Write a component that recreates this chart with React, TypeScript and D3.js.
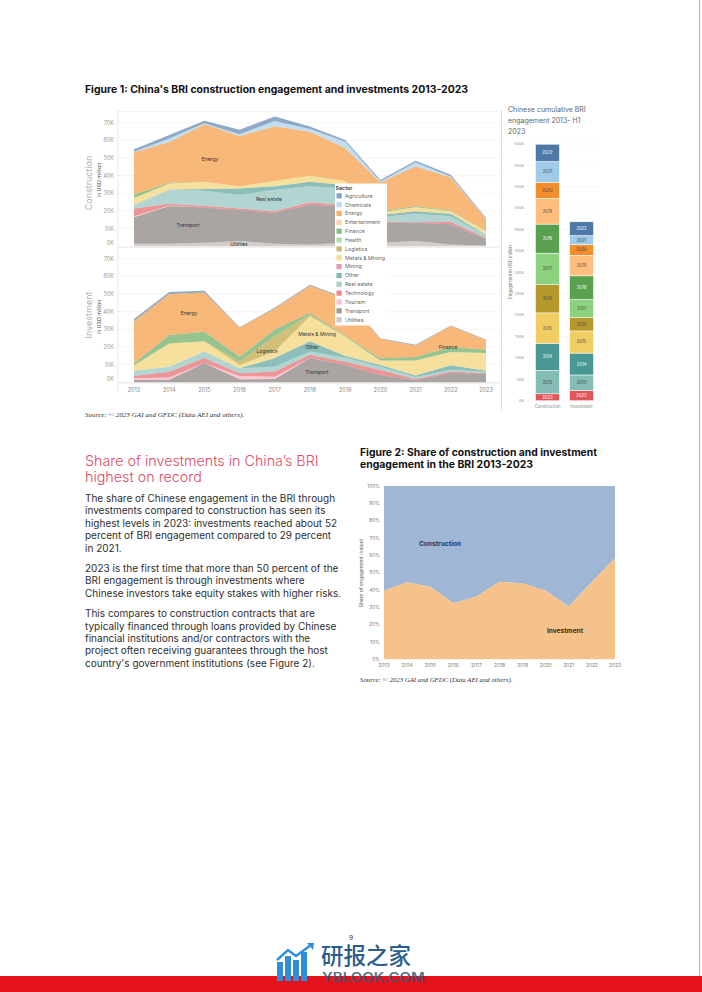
import React from 'react';
import * as d3 from 'd3';

// ---------------- DATA ----------------
const years = [2013, 2014, 2015, 2016, 2017, 2018, 2019, 2020, 2021, 2022, 2023];
const sectors = ['Agriculture', 'Chemicals', 'Energy', 'Entertainment', 'Finance', 'Health', 'Logistics',
  'Metals & Mining', 'Mining', 'Other', 'Real estate', 'Technology', 'Tourism', 'Transport', 'Utilities'];
const sectorColors = ['#4e79a7', '#a0cbe8', '#f28e2b', '#ffbe7d', '#59a14f', '#8cd17d', '#b6992d',
  '#f1ce63', '#d37295', '#499894', '#86bcb6', '#e15759', '#f7a8b8', '#79706e', '#bab0ac'];

// Construction engagement, USD million (thousands = K)
const conAgriculture = [1.5, 2, 1.4, 2.5, 2.5, 1.5, 1, 0.8, 1, 1, 0.3];
const conChemicals = [0.3, 2, 0.6, 1, 3, 1.5, 3.5, 0.5, 2, 0.6, 0.2];
const conEnergy = [23.8, 23, 32.5, 28.5, 31, 25, 18.7, 16.5, 22.6, 18.6, 6.8];
const conEntertainment = [0, 0, 0, 0, 0, 0, 0, 0, 0, 0, 0];
const conFinance = [2, 0.4, 0, 0, 0, 0, 0, 0.5, 0.6, 0.5, 0.2];
const conHealth = [0, 0, 0, 0, 0, 0, 0, 0, 0, 0, 0];
const conLogistics = [0, 0, 0, 0, 0, 0, 0, 0, 0, 0, 0];
const conMetals = [4, 3.4, 4.2, 1.3, 3, 3.4, 2.3, 1.5, 2.3, 1.4, 2];
const conMining = [0, 0, 0, 0, 0, 0, 0, 0, 0, 0, 0];
const conOther = [0, 0, 1, 3.5, 2, 2.5, 1.9, 1.2, 1.4, 1.4, 0.4];
const conRealEstate = [2, 8.1, 8.4, 7.8, 12.2, 9, 9.5, 2.5, 4.9, 3.1, 1.5];
const conTechnology = [4.4, 1, 1, 0.9, 0.8, 1.5, 0.8, 0.5, 0.3, 1.4, 0.5];
const conTourism = [0.5, 0.3, 0, 0, 0, 0, 0, 0, 0, 0, 0];
const conTransport = [15, 21.3, 20, 17.5, 17.5, 22.5, 20.5, 11.5, 10.3, 11.5, 3.7];
const conUtilities = [1.5, 1.5, 2, 3, 1.5, 1, 2, 2, 3, 1, 0.5];

// Investment engagement, USD million (K)
const invAgriculture = [1.3, 1.1, 0.9, 0.3, 0.3, 0.5, 0.5, 0.4, 0.3, 0.3, 0.3];
const invChemicals = [0, 0, 0, 0, 0, 0, 0, 0, 0, 0, 0];
const invEnergy = [24, 23.2, 22.3, 16.4, 12.1, 15.3, 21, 11, 6.6, 11.9, 5.4];
const invEntertainment = [0, 0, 0, 0, 0, 0, 0, 0, 0, 0, 0];
const invFinance = [1, 4.8, 5.4, 2.8, 3.8, 1, 0.5, 1.3, 1.9, 2.8, 1.9];
const invHealth = [0, 0, 0, 0, 0, 0, 0, 0, 0, 0, 0];
const invLogistics = [0, 0, 0, 1.9, 8.6, 1, 0, 0, 0, 0, 0];
const invMetals = [3, 13.2, 5.7, 1.9, 3.8, 14.2, 11, 2.5, 8.6, 7.6, 10.1];
const invMining = [0, 0, 0, 0, 0, 0, 0, 0, 0, 0, 0];
const invOther = [0, 0, 0, 0, 4.7, 5.7, 1, 1, 0.8, 2.5, 0.5];
const invRealEstate = [3, 2.8, 3.8, 2.8, 2.9, 1.9, 2.2, 1.8, 1.2, 1, 0.8];
const invTechnology = [1.3, 3.3, 2.8, 1.5, 2.9, 1.9, 1.9, 2.9, 0.5, 0.8, 0.2];
const invTourism = [1, 1.2, 0, 1.9, 1.3, 0, 0, 0, 0, 0, 0];
const invTransport = [1.3, 1.5, 10.9, 1.7, 1.9, 13.7, 9.8, 4.1, 1.3, 5.3, 5];
const invUtilities = [0, 0, 0, 0, 0, 0, 0, 0, 0, 0, 0];

const areaTicksK = [0, 10, 20, 30, 40, 50, 60, 70];

// Cumulative bar chart
const barCategories = ['Construction', 'Investment'];
const barYearOrder = [2023, 2013, 2014, 2015, 2016, 2017, 2018, 2019, 2020, 2021, 2022];
const barYearColors = ['#e15759', '#86bcb6', '#499894', '#f1ce63', '#b6992d', '#8cd17d', '#59a14f', '#ffbe7d', '#f28e2b', '#a0cbe8', '#4e79a7'];
const barYearTextDark = [false, true, false, true, true, true, false, true, true, true, false];
const barTicksK = [0, 50, 100, 150, 200, 250, 300, 350, 400, 450, 500, 550, 600];

// Figure 2: share of investment in engagement (%)
const investmentShare = [39.6, 44.4, 41.9, 32.3, 36.2, 44.8, 43.8, 39.6, 30.4, 44.8, 58.3];
const shareTicks = [0, 10, 20, 30, 40, 50, 60, 70, 80, 90, 100];

// Text
const bodyP1 = ['The share of Chinese engagement in the BRI through', 'investments compared to construction has seen its',
  'highest levels in 2023: investments reached about 52', 'percent of BRI engagement compared to 29 percent', 'in 2021.'];
const bodyP2 = ['2023 is the first time that more than 50 percent of the', 'BRI engagement is through investments where',
  'Chinese investors take equity stakes with higher risks.'];
const bodyP3 = ['This compares to construction contracts that are', 'typically financed through loans provided by Chinese',
  'financial institutions and/or contractors with the', 'project often receiving guarantees through the host',
  "country's government institutions (see Figure 2)."];

// --------------- BUILD ---------------
const conSeries = [conAgriculture, conChemicals, conEnergy, conEntertainment, conFinance, conHealth, conLogistics,
  conMetals, conMining, conOther, conRealEstate, conTechnology, conTourism, conTransport, conUtilities];
const invSeries = [invAgriculture, invChemicals, invEnergy, invEntertainment, invFinance, invHealth, invLogistics,
  invMetals, invMining, invOther, invRealEstate, invTechnology, invTourism, invTransport, invUtilities];

function buildTable(series: number[][]) {
  return years.map((yr, i) => {
    const row: any = { year: yr };
    sectors.forEach((s, k) => { row[s] = series[k][i]; });
    return row;
  });
}
const conTable = buildTable(conSeries);
const invTable = buildTable(invSeries);
const stackKeys = [...sectors].reverse();
const stacker = d3.stack<any>().keys(stackKeys);
const conStack = stacker(conTable);
const invStack = stacker(invTable);
const conTotals = years.map((_, i) => d3.sum(conSeries, s => s[i]));
const invTotals = years.map((_, i) => d3.sum(invSeries, s => s[i]));

const FONT = 'Inter, "Noto Sans", sans-serif';
const SERIF = '"Liberation Serif", "DejaVu Serif", serif';

function AreaPane({ stack, y0, y1, labels }: { stack: any[]; y0: number; y1: number; labels: { t: string; x: number; y: number }[] }) {
  const x = d3.scaleLinear().domain([2013, 2023]).range([134, 486]);
  const y = d3.scaleLinear().domain([0, 76]).range([y0, y1]);
  const area = d3.area<any>().x(d => x(d.data.year)).y0(d => y(d[0])).y1(d => y(d[1]));
  return (
    <g>
      {areaTicksK.map(t => (
        <g key={t}>
          <line x1={118} x2={500} y1={y(t)} y2={y(t)} stroke="#efefef" strokeWidth={0.6} />
          <text x={114} y={y(t) - (t === 0 ? 3 : 0)} dy="0.35em" textAnchor="end" fontSize={5.5} fill="#9a9a9a" fontFamily={FONT}>{t}K</text>
        </g>
      ))}
      {stack.map(layer => (
        <path key={layer.key} d={area(layer) || ''} fill={sectorColors[sectors.indexOf(layer.key)]} fillOpacity={0.63} />
      ))}
      {labels.map(l => (
        <text key={l.t + l.x} x={l.x} y={l.y} dy="0.35em" textAnchor="middle" fontSize={5} fill="#333" fontFamily={FONT}>{l.t}</text>
      ))}
    </g>
  );
}

function Figure1() {
  const x = d3.scaleLinear().domain([2013, 2023]).range([134, 486]);
  const yBar = d3.scaleLinear().domain([0, 650]).range([400.7, 400.7 - 650 * 0.428]);
  const band = d3.scaleBand().domain(barCategories).range([527, 602]).paddingInner(0.3).paddingOuter(0.25);
  const barTotals = [conTotals, invTotals];
  return (
    <g>
      <text x={85} y={93} fontSize={9.8} fontWeight={700} fill="#111" fontFamily={FONT} textLength={383} lengthAdjust="spacingAndGlyphs">Figure 1: China's BRI construction engagement and investments 2013-2023</text>
      {/* frame lines */}
      <line x1={118} x2={500} y1={111.5} y2={111.5} stroke="#e8e8e8" strokeWidth={0.6} />
      <line x1={118} x2={118} y1={111} y2={392} stroke="#dcdcdc" strokeWidth={0.6} />
      <line x1={501.5} x2={501.5} y1={110} y2={410} stroke="#d0d0d0" strokeWidth={0.7} />

      <AreaPane stack={conStack} y0={246.3} y1={112.1}
        labels={[{ t: 'Energy', x: 210, y: 159 }, { t: 'Real estate', x: 269, y: 199 }, { t: 'Transport', x: 188, y: 225 }, { t: 'Utilities', x: 239, y: 244 }]} />
      <line x1={118} x2={500} y1={247.5} y2={247.5} stroke="#e4e4e4" strokeWidth={0.6} />
      <AreaPane stack={invStack} y0={382.3} y1={248.1}
        labels={[{ t: 'Energy', x: 189, y: 313 }, { t: 'Logistics', x: 267, y: 351.5 }, { t: 'Metals & Mining', x: 317, y: 334 },
          { t: 'Other', x: 312, y: 347.5 }, { t: 'Transport', x: 317, y: 372.5 }, { t: 'Finance', x: 448, y: 347 }]} />
      <line x1={118} x2={500} y1={383} y2={383} stroke="#d8d8d8" strokeWidth={0.6} />
      {years.map(yr => (
        <text key={yr} x={x(yr)} y={390} dy="0.35em" textAnchor="middle" fontSize={5.5} fill="#888" fontFamily={FONT}>{yr}</text>
      ))}

      {/* axis titles */}
      <g transform="translate(92,183) rotate(-90)">
        <text textAnchor="middle" fontSize={9} fill="#b0b0b0" fontFamily={FONT}>Construction</text>
      </g>
      <g transform="translate(100.5,180) rotate(-90)">
        <text textAnchor="middle" fontSize={5.3} fill="#444" fontFamily={FONT}>in USD million</text>
      </g>
      <g transform="translate(92,315) rotate(-90)">
        <text textAnchor="middle" fontSize={9} fill="#b0b0b0" fontFamily={FONT}>Investment</text>
      </g>
      <g transform="translate(100.5,317) rotate(-90)">
        <text textAnchor="middle" fontSize={5.3} fill="#444" fontFamily={FONT}>in USD million</text>
      </g>

      {/* legend */}
      <rect x={335} y={183.5} width={52} height={142} fill="#fff" />
      <text x={335.5} y={188.5} dy="0.35em" fontSize={5.3} fontWeight={600} fill="#333" fontFamily={FONT}>Sector</text>
      {sectors.map((s, i) => (
        <g key={s} transform={`translate(336.5,${195.8 + i * 8.85})`}>
          <rect x={0} y={-2.6} width={5.2} height={5.2} fill={sectorColors[i]} fillOpacity={0.7} />
          <text x={8.5} y={0} dy="0.35em" fontSize={5.3} fill="#666" fontFamily={FONT}>{s}</text>
        </g>
      ))}

      {/* cumulative bars */}
      <text fontSize={7} fill="#666" fontFamily={FONT}>
        <tspan x={508} y={112}>Chinese cumulative BRI</tspan>
        <tspan x={508} y={123}>engagement 2013- H1</tspan>
        <tspan x={508} y={134}>2023</tspan>
      </text>
      {barTicksK.map(t => (
        <g key={t}>
          <line x1={527} x2={600} y1={yBar(t)} y2={yBar(t)} stroke="#f0f0f0" strokeWidth={0.5} />
          <text x={524} y={yBar(t)} dy="0.35em" textAnchor="end" fontSize={3.8} fill="#999" fontFamily={FONT}>{t}K</text>
        </g>
      ))}
      <g transform="translate(512,272) rotate(-90)">
        <text textAnchor="middle" fontSize={4.2} fill="#777" fontFamily={FONT}>Engagement in USD million</text>
      </g>
      {barCategories.map((c, ci) => {
        let acc = 0;
        const bx = band(c) as number;
        return (
          <g key={c}>
            {barYearOrder.map((yr, k) => {
              const v = barTotals[ci][years.indexOf(yr)];
              const yTop = yBar(acc + v);
              const yBot = yBar(acc);
              acc += v;
              return (
                <g key={yr}>
                  <rect x={bx} y={yTop} width={band.bandwidth()} height={yBot - yTop} fill={barYearColors[k]} stroke="#fff" strokeWidth={0.5} />
                  <text x={bx + band.bandwidth() / 2} y={(yTop + yBot) / 2} dy="0.35em" textAnchor="middle" fontSize={4.2}
                    fill={barYearTextDark[k] ? '#444' : '#fff'} fontFamily={FONT}>{yr}</text>
                </g>
              );
            })}
            <text x={bx + band.bandwidth() / 2} y={406} dy="0.35em" textAnchor="middle" fontSize={4.3} fill="#888" fontFamily={FONT}>{c}</text>
          </g>
        );
      })}

      <text x={85} y={417} fontSize={7.1} fontStyle="italic" fill="#333" fontFamily={SERIF}>Source: © 2023 GAI and GFDC (Data AEI and others).</text>
    </g>
  );
}

function Figure2() {
  const x = d3.scaleLinear().domain([2013, 2023]).range([384, 615]);
  const y = d3.scaleLinear().domain([0, 100]).range([659.3, 486]);
  const inv = d3.area<number>().x((_, i) => x(years[i])).y0(y(0)).y1(d => y(d));
  const con = d3.area<number>().x((_, i) => x(years[i])).y0(d => y(d)).y1(y(100));
  return (
    <g>
      <text x={360} y={456} fontSize={9.8} fontWeight={700} fill="#111" fontFamily={FONT} textLength={237} lengthAdjust="spacingAndGlyphs">Figure 2: Share of construction and investment</text>
      <text x={360} y={468} fontSize={9.8} fontWeight={700} fill="#111" fontFamily={FONT} textLength={173} lengthAdjust="spacingAndGlyphs">engagement in the BRI 2013-2023</text>
      <path d={con(investmentShare) || ''} fill="#a0b6d5" />
      <path d={inv(investmentShare) || ''} fill="#f6c28c" />
      {shareTicks.map(t => (
        <text key={t} x={380} y={y(t)} dy="0.35em" textAnchor="end" fontSize={4.8} fill="#777" fontFamily={FONT}>{t}%</text>
      ))}
      {years.map(yr => (
        <text key={yr} x={x(yr)} y={665} dy="0.35em" textAnchor="middle" fontSize={4.8} fill="#777" fontFamily={FONT}>{yr}</text>
      ))}
      <g transform="translate(363,573) rotate(-90)">
        <text textAnchor="middle" fontSize={5} fill="#666" fontFamily={FONT}>Share of engagement (value)</text>
      </g>
      <text x={440} y={544} dy="0.35em" textAnchor="middle" fontSize={6.6} fontWeight={700} fill="#1f3a5f" fontFamily={FONT}>Construction</text>
      <text x={565} y={631} dy="0.35em" textAnchor="middle" fontSize={6.6} fontWeight={700} fill="#4a2a10" fontFamily={FONT}>Investment</text>
      <text x={360} y={681.5} fontSize={6.8} fontStyle="italic" fill="#333" fontFamily={SERIF}>Source: © 2023 GAI and GFDC (Data AEI and others).</text>
    </g>
  );
}

function BodyText() {
  const p1y = [502, 514.4, 527, 539.4, 552];
  const p2y = [572, 584.4, 597];
  const p3y = [617, 629.5, 642, 654.4, 667];
  return (
    <g fontFamily={FONT} fontSize={10} fill="#2e2e2e">
      <text x={85} y={466} fontSize={14.3} fill="#e04a5f" fontWeight={300}>Share of investments in China’s BRI</text>
      <text x={85} y={482} fontSize={14.3} fill="#e04a5f" fontWeight={300}>highest on record</text>
      {bodyP1.map((l, i) => <text key={l} x={85} y={p1y[i]}>{l}</text>)}
      {bodyP2.map((l, i) => <text key={l} x={85} y={p2y[i]}>{l}</text>)}
      {bodyP3.map((l, i) => <text key={l} x={85} y={p3y[i]}>{l}</text>)}
    </g>
  );
}

function Footer() {
  return (
    <g>
      <rect x={0} y={976} width={702} height={16} fill="#e3121d" />
      <line x1={699.5} x2={699.5} y1={0} y2={976} stroke="#b5b5b5" strokeWidth={1} />
      {/* watermark logo */}
      <g fill="#2f8fd6">
        <rect x={277} y={962} width={6} height={19} />
        <rect x={285} y={956} width={6} height={25} />
        <rect x={293} y={960} width={6} height={21} />
        <rect x={301} y={952} width={6} height={29} />
      </g>
      <polyline points="277,960 288,950 296,956 311,945" fill="none" stroke="#2f8fd6" strokeWidth={2.5} />
      <polygon points="307,943 314,943 313,950" fill="#2f8fd6" />
      <text x={349} y={940} fontSize={6.5} fill="#333" fontFamily={FONT}>9</text>
      <text x={321} y={963.5} fontSize={22.5} fontWeight={500} fill="#2c5d8c" fontFamily='"Noto Sans CJK SC", sans-serif'>研报之家</text>
      <text x={322} y={982} fontSize={12.5} fontWeight={600} fill="#3a5578" fillOpacity={0.85} fontFamily={FONT} textLength={103} lengthAdjust="spacingAndGlyphs">YBLOOK.COM</text>
    </g>
  );
}

export default function App() {
  return (
    <svg width={702} height={992} viewBox="0 0 702 992" style={{ position: 'absolute', left: 0, top: 0, background: '#fff' }}>
      <rect x={0} y={0} width={702} height={992} fill="#fff" />
      <Figure1 />
      <BodyText />
      <Figure2 />
      <Footer />
    </svg>
  );
}
